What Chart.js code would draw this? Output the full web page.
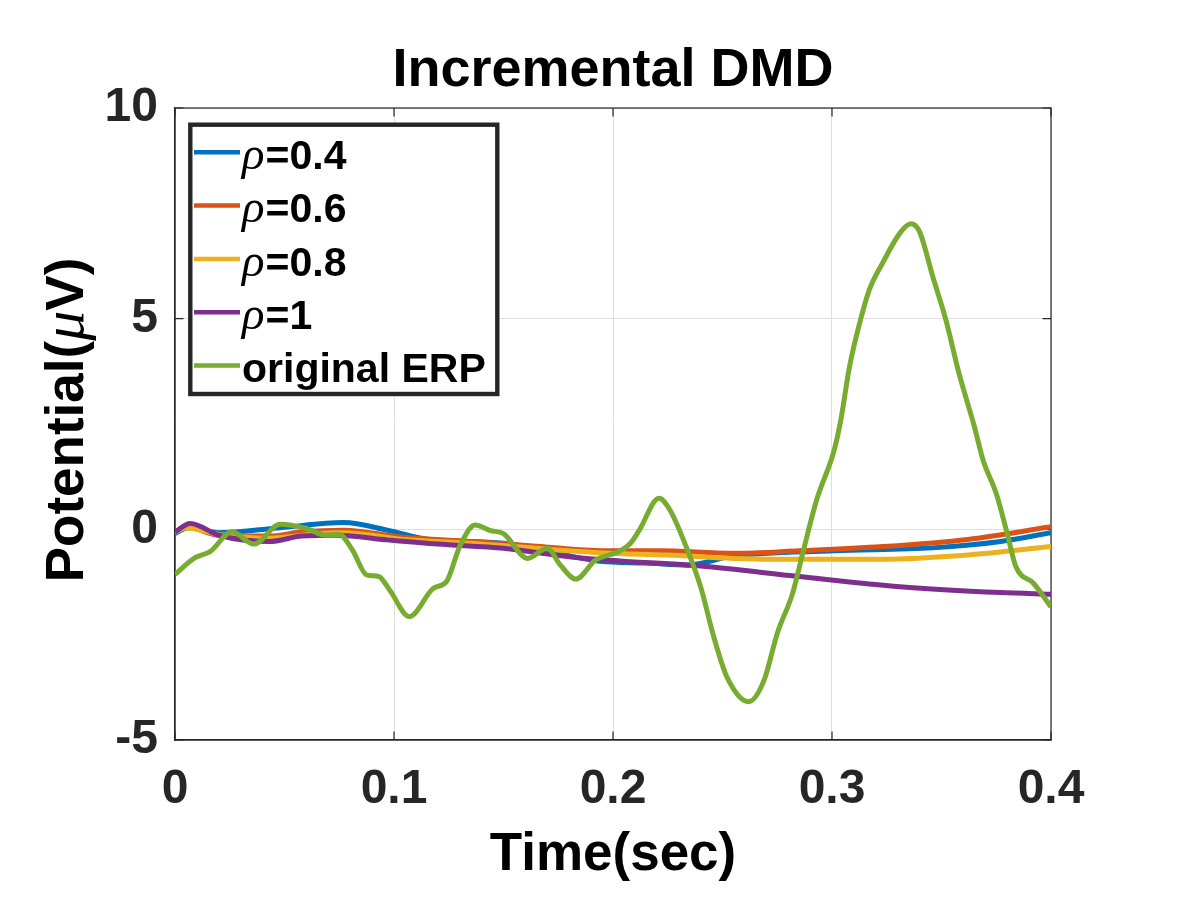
<!DOCTYPE html>
<html>
<head>
<meta charset="utf-8">
<script src="https://cdn.jsdelivr.net/npm/chart.js@4"></script>
<style>
  html, body { margin: 0; padding: 0; background: #ffffff; }
  canvas { display: block; }
</style>
</head>
<body>
<canvas id="c" width="1186" height="917"></canvas>
<script>
// ---------- data ----------
const xTicks = [0, 0.1, 0.2, 0.3, 0.4];
const yTicks = [-5, 0, 5, 10];

const seriesNames = ['0.4', '0.6', '0.8', '1', 'original ERP'];
const seriesColors = ['#0072BD', '#D95319', '#EDB120', '#7E2F8E', '#77AC30'];

const rho04T = [0, 0.006, 0.020, 0.048, 0.077, 0.097, 0.116, 0.150, 0.173, 0.194, 0.215, 0.234, 0.255, 0.301, 0.346, 0.377, 0.400];
const rho04V = [-0.10, 0.04, -0.08, 0.04, 0.16, -0.02, -0.24, -0.33, -0.55, -0.76, -0.80, -0.85, -0.63, -0.51, -0.44, -0.29, -0.08];

const rho06T = [0, 0.005, 0.020, 0.043, 0.058, 0.077, 0.104, 0.135, 0.165, 0.196, 0.221, 0.255, 0.285, 0.323, 0.362, 0.400];
const rho06V = [-0.06, 0.06, -0.14, -0.16, -0.06, -0.02, -0.19, -0.29, -0.40, -0.51, -0.51, -0.57, -0.51, -0.41, -0.24, 0.06];

const rho08T = [0, 0.005, 0.020, 0.043, 0.066, 0.077, 0.104, 0.135, 0.165, 0.196, 0.225, 0.255, 0.285, 0.323, 0.362, 0.400];
const rho08V = [-0.07, 0.03, -0.12, -0.21, -0.10, -0.08, -0.24, -0.33, -0.45, -0.56, -0.61, -0.69, -0.71, -0.71, -0.61, -0.41];

const rho1T = [0, 0.007, 0.020, 0.043, 0.058, 0.074, 0.097, 0.120, 0.150, 0.180, 0.203, 0.240, 0.285, 0.331, 0.377, 0.400];
const rho1V = [-0.06, 0.14, -0.14, -0.29, -0.16, -0.14, -0.25, -0.35, -0.45, -0.65, -0.75, -0.87, -1.12, -1.36, -1.50, -1.54];

const erpT = [0, 0.009, 0.016, 0.026, 0.036, 0.048, 0.060, 0.069, 0.075, 0.081, 0.0875, 0.093, 0.098, 0.107, 0.118, 0.124, 0.130, 0.137, 0.144, 0.150,
              0.161, 0.170, 0.176, 0.183, 0.192, 0.203, 0.208, 0.212, 0.221, 0.226, 0.234, 0.240, 0.246, 0.252, 0.262, 0.269, 0.275, 0.282, 0.287, 0.293,
              0.301, 0.304, 0.308, 0.313, 0.317, 0.323, 0.331, 0.336, 0.340, 0.346, 0.352, 0.358, 0.365, 0.369, 0.375, 0.380, 0.384, 0.392, 0.400];
const erpV = [-1.07, -0.68, -0.53, -0.06, -0.35, 0.12, 0.02, -0.14, -0.12, -0.49, -1.08, -1.12, -1.44, -2.07, -1.40, -1.24, -0.41, 0.10, -0.03, -0.10,
              -0.69, -0.45, -0.85, -1.18, -0.73, -0.52, -0.33, -0.02, 0.74, 0.46, -0.49, -1.36, -2.55, -3.50, -4.09, -3.58, -2.47, -1.52, -0.49, 0.70,
              1.88, 2.59, 3.86, 4.97, 5.68, 6.31, 7.03, 7.25, 7.06, 6.00, 4.97, 3.70, 2.44, 1.64, 0.85, -0.10, -0.89, -1.28, -1.84];

// ---------- build chart ----------
const SANS = '"Liberation Sans", Arial, Helvetica, sans-serif';
const SERIF = '"Liberation Serif", "DejaVu Serif", "Times New Roman", serif';
const AXIS_COLOR = '#262626';

function pts(ts, vs) { return ts.map((t, i) => ({ x: t, y: vs[i] })); }
const allT = [rho04T, rho06T, rho08T, rho1T, erpT];
const allV = [rho04V, rho06V, rho08V, rho1V, erpV];

const datasets = allT.map((ts, i) => ({
  label: seriesNames[i],
  data: pts(ts, allV[i]),
  borderColor: seriesColors[i],
  backgroundColor: seriesColors[i],
  borderWidth: 5,
  pointRadius: 0,
  fill: false,
  cubicInterpolationMode: 'monotone',
  order: 4 - i
}));

const frameAndLegend = {
  id: 'frameAndLegend',
  beforeDatasetsDraw(chart) {
    const { ctx, chartArea: a, scales } = chart;
    ctx.save();
    ctx.strokeStyle = AXIS_COLOR;
    ctx.lineWidth = 1.2;
    ctx.strokeRect(a.left, a.top, a.right - a.left, a.bottom - a.top);
    const tl = 8.5;
    ctx.beginPath();
    xTicks.forEach(v => {
      const px = scales.x.getPixelForValue(v);
      ctx.moveTo(px, a.bottom); ctx.lineTo(px, a.bottom - tl);
      ctx.moveTo(px, a.top); ctx.lineTo(px, a.top + tl);
    });
    yTicks.forEach(v => {
      const py = scales.y.getPixelForValue(v);
      ctx.moveTo(a.left, py); ctx.lineTo(a.left + tl, py);
      ctx.moveTo(a.right, py); ctx.lineTo(a.right - tl, py);
    });
    ctx.stroke();
    ctx.restore();
  },
  afterDatasetsDraw(chart) {
    const { ctx } = chart;
    ctx.save();
    // legend box
    ctx.fillStyle = '#ffffff';
    ctx.fillRect(190, 124.5, 307, 269.5);
    ctx.strokeStyle = AXIS_COLOR;
    ctx.lineWidth = 4.4;
    ctx.strokeRect(190.3, 124.7, 307, 269.3);
    const base0 = 169, step = 53.3;
    seriesNames.forEach((name, i) => {
      const by = base0 + step * i;
      const ly = by - 16.7;
      ctx.strokeStyle = seriesColors[i];
      ctx.lineWidth = 4.5;
      ctx.beginPath();
      ctx.moveTo(194, ly); ctx.lineTo(240, ly);
      ctx.stroke();
      ctx.fillStyle = '#000000';
      ctx.textBaseline = 'alphabetic';
      ctx.textAlign = 'left';
      let x = 242;
      if (i < 4) {
        ctx.font = 'italic 47px ' + SERIF;
        ctx.fillText('\u03C1', x, by);
        x += ctx.measureText('\u03C1').width + 1;
        ctx.font = 'bold 41px ' + SANS;
        ctx.fillText('=' + name, x, by);
      } else {
        ctx.font = 'bold 41px ' + SANS;
        ctx.fillText(name, x, by);
      }
    });
    ctx.restore();
  },
  afterDraw(chart) {
    const { ctx } = chart;
    ctx.save();
    const parts = [
      { t: 'Potential(', f: 'bold 53px ' + SANS },
      { t: '\u03BC', f: 'italic 60px ' + SERIF },
      { t: 'V)', f: 'bold 53px ' + SANS }
    ];
    let total = 0;
    parts.forEach(p => { ctx.font = p.f; p.w = ctx.measureText(p.t).width; total += p.w; });
    ctx.translate(83, 420);
    ctx.rotate(-Math.PI / 2);
    ctx.fillStyle = '#000000';
    ctx.textBaseline = 'alphabetic';
    ctx.textAlign = 'left';
    let x = -total / 2;
    parts.forEach(p => { ctx.font = p.f; ctx.fillText(p.t, x, 0); x += p.w; });
    ctx.restore();
  }
};

new Chart(document.getElementById('c'), {
  type: 'line',
  data: { datasets },
  options: {
    responsive: false,
    devicePixelRatio: 1,
    animation: false,
    layout: { padding: { left: 0, right: 135, top: 0, bottom: 0 } },
    plugins: {
      legend: { display: false },
      tooltip: { enabled: false },
      title: {
        display: true,
        text: 'Incremental DMD',
        fullSize: false,
        color: '#000000',
        font: { family: SANS, size: 54, weight: 'bold', lineHeight: 1.2 },
        padding: { top: 39, bottom: 4.2 }
      }
    },
    scales: {
      x: {
        type: 'linear',
        min: 0, max: 0.4,
        afterBuildTicks(s) { s.ticks = xTicks.map(v => ({ value: v })); },
        afterFit(s) { s.height = 177; },
        ticks: {
          color: AXIS_COLOR,
          padding: 21,
          maxRotation: 0,
          font: { family: SANS, size: 48, weight: 'bold', lineHeight: 1.2 },
          callback: v => String(Math.round(v * 10) / 10)
        },
        grid: { color: '#dfdfdf', lineWidth: 1, drawTicks: false },
        border: { display: true, color: AXIS_COLOR, width: 1.2 },
        title: {
          display: true,
          text: 'Time(sec)',
          color: '#000000',
          font: { family: SANS, size: 53, weight: 'bold', lineHeight: 1.2 },
          padding: { top: 0, bottom: 30.2 }
        }
      },
      y: {
        type: 'linear',
        min: -5, max: 10,
        afterBuildTicks(s) { s.ticks = yTicks.map(v => ({ value: v })); },
        afterFit(s) { s.width = 175; },
        ticks: {
          color: AXIS_COLOR,
          padding: 17,
          font: { family: SANS, size: 48, weight: 'bold', lineHeight: 1.2 },
          callback: v => String(v)
        },
        grid: { color: '#dfdfdf', lineWidth: 1, drawTicks: false },
        border: { display: true, color: AXIS_COLOR, width: 1.2 }
      }
    }
  },
  plugins: [frameAndLegend]
});
</script>
</body>
</html>
